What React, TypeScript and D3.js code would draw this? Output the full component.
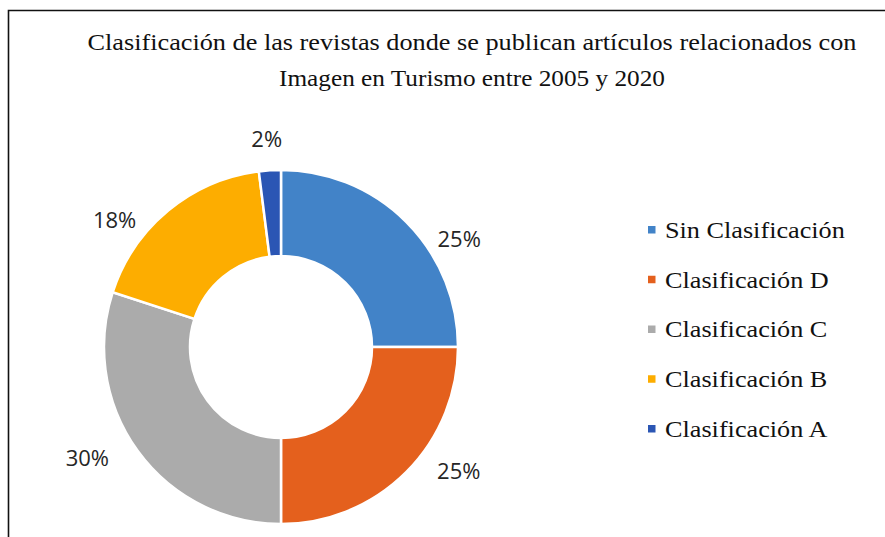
import React from "react";
import * as d3 from "d3";

const categories = [
  "Sin Clasificación",
  "Clasificación D",
  "Clasificación C",
  "Clasificación B",
  "Clasificación A",
];
const values = [25, 25, 30, 18, 2];
const colors = ["#4283C8", "#E4601D", "#ABABAB", "#FDAD00", "#2B56B4"];
const titleLines = [
  "Clasificación de las revistas donde se publican artículos relacionados con",
  "Imagen en Turismo entre 2005 y 2020",
];
// layout nudges for the percentage labels (degrees, px)
const labelAngleNudge = [13.5, -10.4, 6.3, -12.8, -0.3];
const labelRadius = [209, 216, 223, 210, 210];

const W = 885;
const H = 537;
const cx = 281;
const cy = 347;
const outerR = 177;
const innerR = 91;
const SERIF = "Liberation Serif";

export default function App() {
  const pie = d3
    .pie<number>()
    .sort(null)
    .value((d) => d);
  const arcs = pie(values);
  const arc = d3
    .arc<d3.PieArcDatum<number>>()
    .innerRadius(innerR)
    .outerRadius(outerR);
  const total = d3.sum(values);
  const fmt = d3.format(".0%");

  const legendY = d3
    .scalePoint<number>()
    .domain(d3.range(categories.length))
    .range([230, 429]);

  return (
    <svg
      width={W}
      height={H}
      style={{ position: "absolute", left: 0, top: 0, background: "#fff" }}
    >
      <rect x={0} y={0} width={W} height={H} fill="#fff" />
      <path
        d={`M8.5,${H} L8.5,10.5 L${W},10.5`}
        fill="none"
        stroke="#111"
        strokeWidth={1.6}
      />
      <g style={{ fontFamily: SERIF }} fill="#111">
        <text x={472} y={50} fontSize={23} textAnchor="middle" textLength={769} lengthAdjust="spacingAndGlyphs">
          {titleLines[0]}
        </text>
        <text x={472} y={86} fontSize={23} textAnchor="middle" textLength={386} lengthAdjust="spacingAndGlyphs">
          {titleLines[1]}
        </text>
      </g>
      <g transform={`translate(${cx},${cy})`}>
        {arcs.map((a, i) => (
          <path
            key={i}
            d={arc(a) || ""}
            fill={colors[i]}
            stroke="#fff"
            strokeWidth={2.5}
          />
        ))}
        {arcs.map((a, i) => {
          const mid = (a.startAngle + a.endAngle) / 2 + (labelAngleNudge[i] * Math.PI) / 180;
          const r = labelRadius[i];
          const x = Math.sin(mid) * r;
          const y = -Math.cos(mid) * r;
          return (
            <text
              key={i}
              x={x}
              y={y}
              textAnchor="middle"
              dominantBaseline="central"
              style={{ fontFamily: "Open Sans" }}
              fontSize={22}
              fill="#262626"
            >
              {fmt(values[i] / total)}
            </text>
          );
        })}
      </g>
      <g style={{ fontFamily: SERIF }} fill="#111">
        {categories.map((c, i) => (
          <g key={c} transform={`translate(648,${legendY(i)})`}>
            <rect x={0} y={-4} width={7.5} height={7.5} fill={colors[i]} />
            <text
              transform="translate(17,0) scale(1.14,1)"
              dominantBaseline="central"
              fontSize={23}
            >
              {c}
            </text>
          </g>
        ))}
      </g>
    </svg>
  );
}
